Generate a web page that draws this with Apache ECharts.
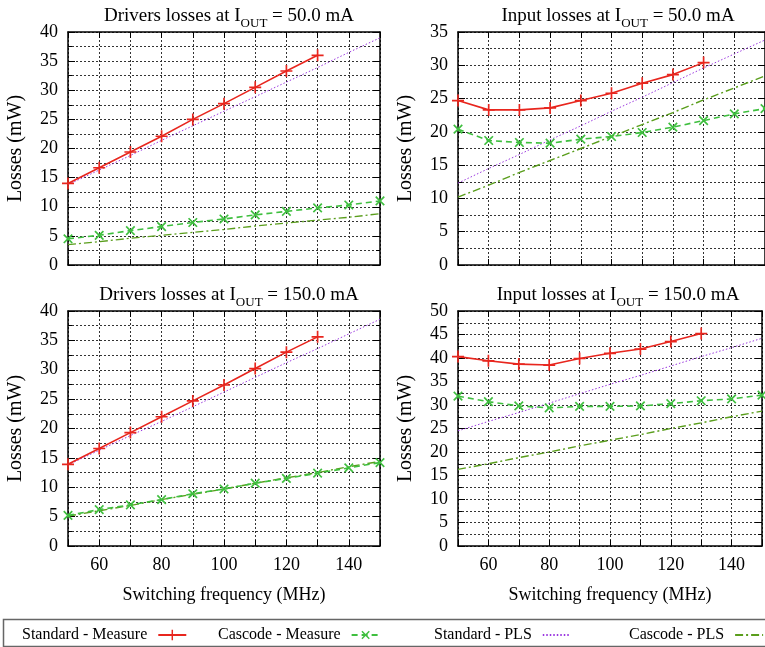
<!DOCTYPE html>
<html>
<head>
<meta charset="utf-8">
<title>Drivers and input losses</title>
<script src="https://cdn.jsdelivr.net/npm/echarts@6/dist/echarts.min.js"></script>
<style>
  html, body { margin: 0; padding: 0; background: #fff; }
  #chart { width: 765px; height: 647px; }
</style>
</head>
<body>
<div id="chart"></div>
<script>
// Switching frequencies (MHz); measurements stop at 130 MHz, PLS models run to 150 MHz
const freq = [50, 60, 70, 80, 90, 100, 110, 120, 130, 140, 150];
const xTickLabels = [60, 80, 100, 120, 140];

const seriesNames = ['Standard - Measure', 'Cascode - Measure', 'Standard - PLS', 'Cascode - PLS'];

// Drivers losses, I_OUT = 50 mA (mW)
const drv50StdMeas = [14.0, 16.7, 19.4, 22.1, 25.0, 27.7, 30.5, 33.3, 36.0];
const drv50CasMeas = [4.5, 5.1, 5.9, 6.6, 7.3, 7.9, 8.6, 9.2, 9.8, 10.3, 11.0];
const drv50StdPls  = [13.8, 16.3, 18.8, 21.4, 23.9, 26.4, 28.9, 31.4, 33.9, 36.5, 39.0];
const drv50CasPls  = [3.5, 4.0, 4.6, 5.1, 5.6, 6.1, 6.7, 7.2, 7.7, 8.2, 8.8];

// Input losses, I_OUT = 50 mA (mW)
const in50StdMeas = [24.7, 23.3, 23.3, 23.6, 24.7, 25.8, 27.3, 28.6, 30.4];
const in50CasMeas = [20.4, 18.7, 18.4, 18.3, 18.9, 19.3, 19.9, 20.7, 21.7, 22.7, 23.5];
const in50StdPls  = [12.3, 14.5, 16.6, 18.8, 20.9, 23.1, 25.2, 27.4, 29.6, 31.7, 33.8];
const in50CasPls  = [10.2, 12.0, 13.9, 15.7, 17.5, 19.3, 21.1, 22.9, 24.8, 26.6, 28.4];

// Drivers losses, I_OUT = 150 mA (mW)
const drv150StdMeas = [13.9, 16.6, 19.3, 22.0, 24.7, 27.4, 30.2, 33.0, 35.6];
const drv150CasMeas = [5.2, 6.2, 7.0, 7.9, 8.9, 9.7, 10.7, 11.5, 12.4, 13.3, 14.2];
const drv150StdPls  = [13.8, 16.3, 18.8, 21.2, 23.7, 26.2, 28.7, 31.2, 33.6, 36.1, 38.6];
const drv150CasPls  = [5.1, 6.0, 6.9, 7.9, 8.8, 9.7, 10.7, 11.6, 12.5, 13.5, 14.4];

// Input losses, I_OUT = 150 mA (mW)
const in150StdMeas = [40.3, 39.4, 38.7, 38.5, 39.9, 41.0, 41.9, 43.5, 45.2];
const in150CasMeas = [31.9, 30.7, 29.8, 29.4, 29.7, 29.7, 29.8, 30.3, 30.9, 31.3, 32.1];
const in150StdPls  = [24.5, 26.5, 28.4, 30.4, 32.4, 34.4, 36.3, 38.3, 40.3, 42.2, 44.2];
const in150CasPls  = [16.3, 17.5, 18.8, 20.0, 21.3, 22.5, 23.7, 25.0, 26.2, 27.5, 28.7];

const panels = [
  { title: ['Drivers losses at I', 'OUT', ' = 50.0 mA'], yMax: 40, data: [drv50StdMeas, drv50CasMeas, drv50StdPls, drv50CasPls],
    grid: { left: 68, top: 32, width: 312, height: 233 }, xLabels: false },
  { title: ['Input losses at I', 'OUT', ' = 50.0 mA'], yMax: 35, data: [in50StdMeas, in50CasMeas, in50StdPls, in50CasPls],
    grid: { left: 458, top: 32, width: 310, height: 233 }, xLabels: false },
  { title: ['Drivers losses at I', 'OUT', ' = 150.0 mA'], yMax: 40, data: [drv150StdMeas, drv150CasMeas, drv150StdPls, drv150CasPls],
    grid: { left: 68, top: 311, width: 312, height: 235 }, xLabels: true },
  { title: ['Input losses at I', 'OUT', ' = 150.0 mA'], yMax: 50, data: [in150StdMeas, in150CasMeas, in150StdPls, in150CasPls],
    grid: { left: 458, top: 311, width: 310, height: 235 }, xLabels: true }
];

const FONT = "'Liberation Serif', 'Times New Roman', serif";
const plusPath = 'path://M4.3,0H5.7V4.3H10V5.7H5.7V10H4.3V5.7H0V4.3H4.3Z';

const styles = [
  { color: '#e8261e', lineStyle: { width: 1.6, type: 'solid' }, symbol: plusPath, symbolSize: 12, symbolRotate: 0 },
  { color: '#3fbf3f', lineStyle: { width: 1.6, type: [6, 4] }, symbol: plusPath, symbolSize: 12, symbolRotate: 45 },
  { color: '#9b38e0', lineStyle: { width: 1, type: [1.5, 2] }, symbol: 'none' },
  { color: '#5a9e1c', lineStyle: { width: 1.4, type: [8, 3, 2, 3] }, symbol: 'none' }
];

const gridLine = { show: true, lineStyle: { color: '#333', width: 1, type: [2, 2] } };

const option = {
  animation: false,
  backgroundColor: '#fff',
  textStyle: { fontFamily: FONT },
  title: [],
  grid: [],
  xAxis: [],
  yAxis: [],
  series: [],
  legend: [],
  graphic: [{
    type: 'rect', silent: true, z: -1,
    shape: { x: 3.5, y: 619.5, width: 800, height: 27 },
    style: { fill: 'none', stroke: '#666', lineWidth: 1.5 }
  }]
};

panels.forEach((p, g) => {
  option.grid.push(Object.assign({ containLabel: false, show: false }, p.grid));

  option.title.push({
    text: '{a|' + p.title[0] + '}{s|' + p.title[1] + '}{a|' + p.title[2] + '}',
    left: p.grid.left + p.grid.width / 2,
    top: p.grid.top - 33,
    textAlign: 'center',
    textStyle: {
      fontFamily: FONT,
      fontWeight: 'normal',
      rich: {
        a: { fontFamily: FONT, fontSize: 19, fontWeight: 'normal', color: '#000', lineHeight: 22, verticalAlign: 'bottom' },
        s: { fontFamily: FONT, fontSize: 13, fontWeight: 'normal', color: '#000', lineHeight: 15, verticalAlign: 'bottom', padding: [0, 0, -4, 0] }
      }
    }
  });

  // bottom x axis with labels / grid
  option.xAxis.push({
    type: 'value', gridIndex: g, min: 50, max: 150, interval: 10, position: 'bottom',
    name: p.xLabels ? 'Switching frequency (MHz)' : '',
    nameLocation: 'middle', nameGap: 40,
    nameTextStyle: { fontFamily: FONT, fontSize: 18, color: '#000' },
    axisLine: { show: true, onZero: false, lineStyle: { color: '#000', width: 1.5 } },
    axisTick: { show: true, inside: true, length: 6, lineStyle: { color: '#000' } },
    axisLabel: {
      show: p.xLabels, margin: 10, fontFamily: FONT, fontSize: 18, color: '#000',
      formatter: v => (xTickLabels.indexOf(v) >= 0 ? String(v) : '')
    },
    splitLine: gridLine
  });
  // mirrored top axis
  option.xAxis.push({
    type: 'value', gridIndex: g, min: 50, max: 150, interval: 10, position: 'top',
    axisLine: { show: true, onZero: false, lineStyle: { color: '#000', width: 1.5 } },
    axisTick: { show: true, inside: true, length: 6, lineStyle: { color: '#000' } },
    axisLabel: { show: false }, splitLine: { show: false }
  });

  option.yAxis.push({
    type: 'value', gridIndex: g, min: 0, max: p.yMax, interval: 5, position: 'left',
    name: 'Losses (mW)', nameLocation: 'middle', nameGap: 42, nameRotate: 90,
    nameTextStyle: { fontFamily: FONT, fontSize: 20, color: '#000' },
    axisLine: { show: true, onZero: false, lineStyle: { color: '#000', width: 1.5 } },
    axisTick: { show: true, inside: true, length: 7, lineStyle: { color: '#000' } },
    minorTick: { show: true, splitNumber: 2, length: 4, lineStyle: { color: '#000' } },
    axisLabel: { margin: 10, fontFamily: FONT, fontSize: 18, color: '#000' },
    splitLine: gridLine,
    minorSplitLine: gridLine
  });
  option.yAxis.push({
    type: 'value', gridIndex: g, min: 0, max: p.yMax, interval: 5, position: 'right',
    axisLine: { show: true, onZero: false, lineStyle: { color: '#000', width: 1.5 } },
    axisTick: { show: true, inside: true, length: 7, lineStyle: { color: '#000' } },
    minorTick: { show: true, splitNumber: 2, length: 4, lineStyle: { color: '#000' } },
    axisLabel: { show: false }, splitLine: { show: false }
  });

  p.data.forEach((vals, k) => {
    const st = styles[k];
    option.series.push({
      type: 'line',
      name: seriesNames[k],
      xAxisIndex: 2 * g,
      yAxisIndex: 2 * g,
      data: vals.map((v, i) => [freq[i], v]),
      color: st.color,
      lineStyle: Object.assign({ color: st.color }, st.lineStyle),
      itemStyle: { color: st.color },
      symbol: st.symbol,
      symbolSize: st.symbolSize || 0,
      symbolRotate: st.symbolRotate || 0,
      showSymbol: st.symbol !== 'none',
      z: 10 - k
    });
  });
});

// Key along the bottom: label first, then the line sample (no marker for PLS lines)
const legendLefts = [17, 213, 429, 624];
seriesNames.forEach((name, k) => {
  const hasMarker = styles[k].symbol !== 'none';
  option.legend.push({
    data: [hasMarker ? { name: name } : { name: name, itemStyle: { opacity: 0, borderWidth: 0 } }],
    left: legendLefts[k],
    top: 622,
    align: 'right',
    itemWidth: 28,
    itemHeight: 13,
    selectedMode: false,
    textStyle: { fontFamily: FONT, fontSize: 16, color: '#000', padding: [0, 6, 0, 0] }
  });
});

const chart = echarts.init(document.getElementById('chart'), null, { renderer: 'canvas' });
chart.setOption(option);
</script>
</body>
</html>
